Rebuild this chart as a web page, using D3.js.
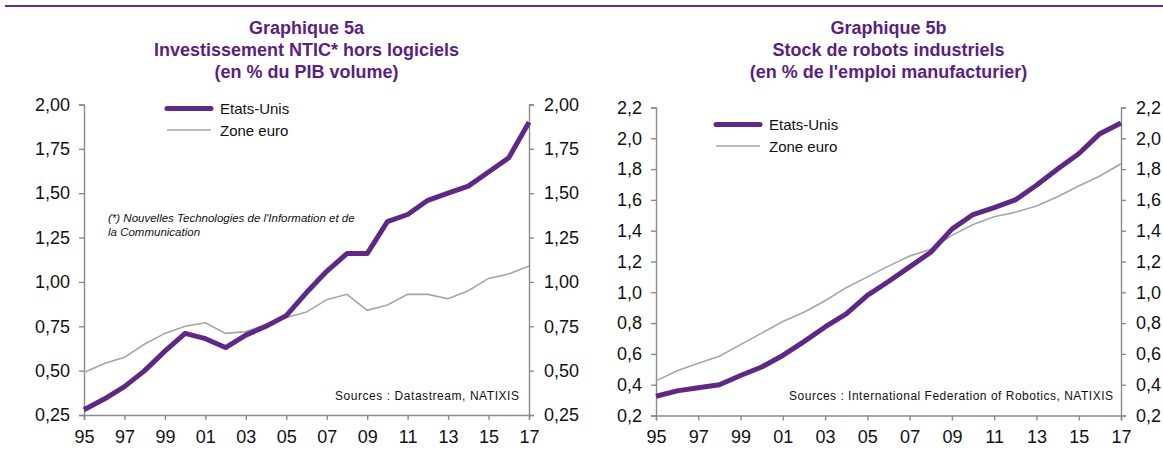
<!DOCTYPE html>
<html>
<head>
<meta charset="utf-8">
<script src="https://cdn.jsdelivr.net/npm/d3@7"></script>
<style>
  body { margin: 0; background: #fff; }
  svg { display: block; font-family: "Liberation Sans", Arial, sans-serif; }
</style>
</head>
<body>
<div id="chart"></div>
<script>
// years shared by both panels
var years = [1995, 1996, 1997, 1998, 1999, 2000, 2001, 2002, 2003, 2004, 2005, 2006,
             2007, 2008, 2009, 2010, 2011, 2012, 2013, 2014, 2015, 2016, 2017];
var yearTicks = [1995, 1997, 1999, 2001, 2003, 2005, 2007, 2009, 2011, 2013, 2015, 2017];

// Graphique 5a : investissement NTIC (% du PIB volume)
var nticUS = [0.28, 0.34, 0.41, 0.50, 0.61, 0.71, 0.68, 0.63, 0.70, 0.75, 0.81, 0.94,
              1.06, 1.16, 1.16, 1.34, 1.38, 1.46, 1.50, 1.54, 1.62, 1.70, 1.90];
var nticEZ = [0.49, 0.54, 0.575, 0.65, 0.71, 0.75, 0.77, 0.71, 0.72, 0.76, 0.80, 0.83,
              0.90, 0.93, 0.84, 0.87, 0.93, 0.93, 0.905, 0.95, 1.02, 1.045, 1.09];
var nticTicks = [0.25, 0.50, 0.75, 1.00, 1.25, 1.50, 1.75, 2.00];

// Graphique 5b : stock de robots (% de l'emploi manufacturier)
var robUS = [0.325, 0.36, 0.38, 0.40, 0.46, 0.515, 0.59, 0.68, 0.775, 0.86, 0.98, 1.07,
             1.165, 1.26, 1.41, 1.505, 1.55, 1.60, 1.695, 1.80, 1.90, 2.03, 2.10];
var robEZ = [0.425, 0.49, 0.54, 0.585, 0.66, 0.735, 0.81, 0.87, 0.945, 1.03, 1.10, 1.17,
             1.235, 1.28, 1.37, 1.44, 1.49, 1.52, 1.56, 1.62, 1.69, 1.755, 1.835];
var robTicks = [0.2, 0.4, 0.6, 0.8, 1.0, 1.2, 1.4, 1.6, 1.8, 2.0, 2.2];

var seriesNames = ["Etats-Unis", "Zone euro"];

var W = 1163, H = 454;
var purple = "#5e2884", grey = "#a5a5a5", axisCol = "#8a8a8a", titleCol = "#5a1f80";

var svg = d3.select("#chart").append("svg").attr("width", W).attr("height", H);

// top rule
svg.append("line").attr("x1", 5).attr("x2", W).attr("y1", 6).attr("y2", 6)
  .attr("stroke", "#6a2a8e").attr("stroke-width", 2);

function panel(opt) {
  var x = d3.scaleLinear().domain([1995, 2017]).range([opt.x0, opt.x1]);
  var y = d3.scaleLinear().domain(opt.yDomain).range([opt.y0, opt.y1]);
  var fmt = function(d) { return d3.format(opt.fmt)(d).replace(".", ","); };
  var g = svg.append("g");

  // title
  var cx = (opt.x0 + opt.x1) / 2;
  opt.title.forEach(function(t, i) {
    g.append("text").attr("x", cx).attr("y", 33.5 + i * 22)
      .attr("text-anchor", "middle").attr("font-weight", "bold")
      .attr("font-size", 18).attr("fill", titleCol).text(t);
  });

  var axL = g.append("g").attr("transform", "translate(" + opt.x0 + ",0)")
    .call(d3.axisLeft(y).tickValues(opt.yTicks).tickFormat(fmt).tickSize(5).tickPadding(9));
  var axR = g.append("g").attr("transform", "translate(" + opt.x1 + ",0)")
    .call(d3.axisRight(y).tickValues(opt.yTicks).tickFormat(fmt).tickSize(5).tickPadding(10));
  var axB = g.append("g").attr("transform", "translate(0," + opt.y0 + ")")
    .call(d3.axisBottom(x).tickValues(yearTicks)
      .tickFormat(function(d) { return d3.format("02")(d % 100); })
      .tickSize(5).tickPadding(10));
  [axL, axR, axB].forEach(function(a) {
    a.select(".domain").attr("stroke", axisCol).attr("stroke-width", 1.4);
    a.selectAll(".tick line").attr("stroke", axisCol).attr("stroke-width", 1.4);
    a.selectAll("text").attr("font-size", 18).attr("fill", "#111")
      .attr("font-family", "Liberation Sans, Arial, sans-serif");
  });

  var line = d3.line().x(function(d, i) { return x(years[i]); }).y(function(d) { return y(d); });

  g.append("path").datum(opt.ez).attr("d", line).attr("fill", "none")
    .attr("stroke", grey).attr("stroke-width", 1.6);
  g.append("path").datum(opt.us).attr("d", line).attr("fill", "none")
    .attr("stroke", purple).attr("stroke-width", 5).attr("stroke-linejoin", "round");

  // legend
  var lg = g.append("g");
  [[purple, 5], [grey, 1.6]].forEach(function(s, i) {
    var ly = opt.legY + i * 21.5;
    lg.append("line").attr("x1", opt.legX).attr("x2", opt.legX + 44)
      .attr("y1", ly).attr("y2", ly).attr("stroke", s[0]).attr("stroke-width", s[1])
      .attr("stroke-linecap", i === 0 ? "round" : "butt");
    lg.append("text").attr("x", opt.legX + 53).attr("y", ly + 5.5)
      .attr("font-size", 15).attr("fill", "#111").text(seriesNames[i]);
  });

  g.append("text").attr("x", opt.srcX).attr("y", 399.5).attr("text-anchor", "end")
    .attr("font-size", 12).attr("fill", "#111").attr("xml:space", "preserve")
    .attr("textLength", opt.srcLen).attr("lengthAdjust", "spacing")
    .text(opt.source);
  return g;
}

var gA = panel({
  x0: 84, x1: 529, y0: 415, y1: 104.5, yDomain: [0.25, 2.0], yTicks: nticTicks, fmt: ".2f",
  title: ["Graphique 5a", "Investissement NTIC* hors logiciels", "(en % du PIB volume)"],
  us: nticUS, ez: nticEZ, legX: 167, legY: 108.5,
  srcX: 519, srcLen: 184, source: "Sources : Datastream, NATIXIS"
});

gA.append("text").attr("x", 108).attr("y", 222).attr("font-size", 11.5)
  .attr("font-style", "italic").attr("fill", "#111")
  .text("(*) Nouvelles Technologies de l'Information et de");
gA.append("text").attr("x", 108).attr("y", 236).attr("font-size", 11.5)
  .attr("font-style", "italic").attr("fill", "#111")
  .text("la Communication");

panel({
  x0: 656, x1: 1121, y0: 415.5, y1: 107.5, yDomain: [0.2, 2.2], yTicks: robTicks, fmt: ".1f",
  title: ["Graphique 5b", "Stock de robots industriels", "(en % de l'emploi manufacturier)"],
  us: robUS, ez: robEZ, legX: 716, legY: 124.5,
  srcX: 1113, srcLen: 324, source: "Sources : International Federation of Robotics, NATIXIS"
});
</script>
</body>
</html>
